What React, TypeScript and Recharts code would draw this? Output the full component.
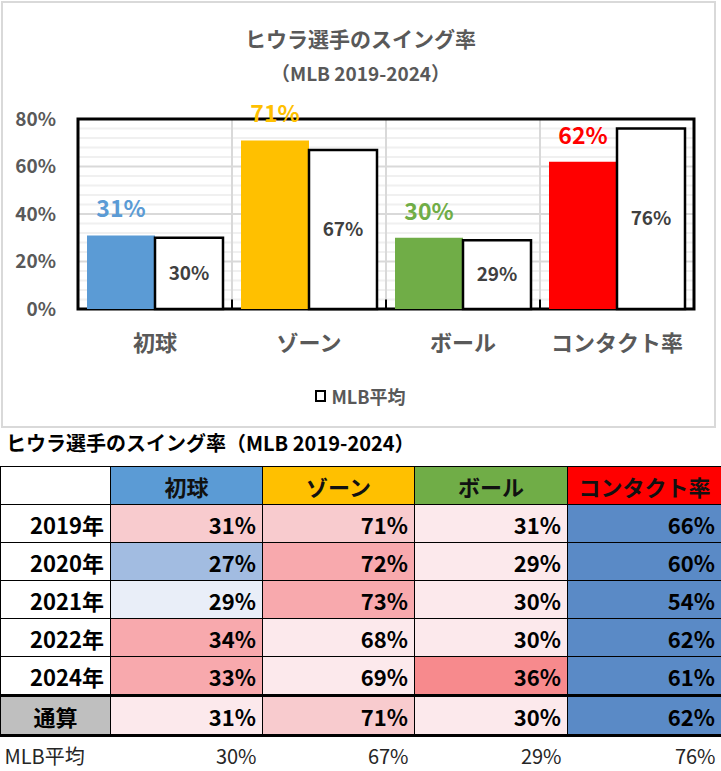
import React from "react";
import { BarChart, Bar, XAxis, YAxis, Legend, LabelList, Cell, ReferenceLine, ReferenceArea, CartesianGrid } from "recharts";

const categories = ["初球", "ゾーン", "ボール", "コンタクト率"];
const hiuraRates = [31, 71, 30, 62];
const mlbRates = [30, 67, 29, 76];
const categoryColors = ["#5B9BD5", "#FFC000", "#70AD47", "#FF0000"];
const yTicks = [0, 20, 40, 60, 80];
const minorTicks = [4, 8, 12, 16, 24, 28, 32, 36, 44, 48, 52, 56, 64, 68, 72, 76];

const years = ["2019年", "2020年", "2021年", "2022年", "2024年"];
const firstPitch = [31, 27, 29, 34, 33];
const zone = [71, 72, 73, 68, 69];
const ball = [31, 29, 30, 30, 36];
const contact = [66, 60, 54, 62, 61];

// conditional-format fills, one per cell (columns: 初球, ゾーン, ボール, コンタクト率)
const PINK1 = "#F8CBCE";
const PINK2 = "#F8A9AD";
const PINK0 = "#FCE9EC";
const PINK3 = "#F78A8D";
const BLUE = "#5A8AC6";
const yearFills = [
  [PINK1, PINK1, PINK0, BLUE],
  ["#A2BCE1", PINK2, PINK0, BLUE],
  ["#E9EEF8", PINK2, PINK0, BLUE],
  [PINK2, PINK0, PINK0, BLUE],
  [PINK2, PINK0, PINK3, BLUE],
];
const totalFills = [PINK0, PINK1, PINK0, BLUE];

const data = categories.map((name, i) => ({ name, hiura: hiuraRates[i], mlb: mlbRates[i] }));

const FONT = "'Noto Sans CJK JP', 'Noto Sans', sans-serif";
const pct = (v: number) => `${v}%`;

function HiuraLabel(props: any) {
  const { x, y, width, value, index } = props;
  return (
    <text x={x + width / 2} y={y - 18} textAnchor="middle" fontSize={23} fontWeight={700} fill={categoryColors[index]} fontFamily={FONT}>
      {pct(value)}
    </text>
  );
}

function LegendBox(props: any) {
  const items = (props.payload || []).filter((p: any) => p.type !== "none");
  return (
    <div style={{ display: "flex", justifyContent: "center", alignItems: "center", fontFamily: FONT }}>
      {items.map((p: any) => (
        <div key={p.value} style={{ display: "flex", alignItems: "center", gap: 5 }}>
          <span style={{ width: 11, height: 12, border: "2px solid #000", background: "#fff", boxSizing: "border-box" }} />
          <span style={{ fontSize: 18, fontWeight: 700, color: "#595959" }}>{p.value}</span>
        </div>
      ))}
    </div>
  );
}

const cellBase: React.CSSProperties = {
  border: "1.5px solid #000",
  padding: "0 6px 0 0",
  textAlign: "right",
  fontWeight: 700,
  fontSize: 22,
  height: 37,
  color: "#000",
};

export default function App() {
  const cols = [firstPitch, zone, ball, contact];
  const inner = categories.slice(1);
  return (
    <div style={{ position: "relative", width: 721, height: 771, background: "#fff", fontFamily: FONT }}>
      <style>{"body{margin:0}"}</style>
      <div style={{ position: "absolute", left: 0, top: 0 }}>
        <BarChart width={721} height={430} data={data} margin={{ top: 119, right: 27, bottom: 61, left: 18 }} barCategoryGap={9} barGap={0}>
          <CartesianGrid vertical={false} stroke="#D9D9D9" strokeWidth={2} />
          <XAxis dataKey="name" axisLine={false} tickLine={false} tickSize={0} tickMargin={26} height={60} interval={0}
            tick={{ fill: "#595959", fontSize: 22, fontWeight: 700, fontFamily: FONT }} />
          <YAxis domain={[0, 80]} ticks={yTicks} tickFormatter={pct} axisLine={false} tickLine={false} tickSize={0} tickMargin={22} width={60}
            tick={{ fill: "#595959", fontSize: 19, fontWeight: 700, fontFamily: FONT }} />
          {minorTicks.map((v) => (
            <ReferenceLine key={"m" + v} y={v} stroke="#F0F0F0" strokeWidth={2} zIndex={-60} />
          ))}
          {inner.map((c) => (
            <ReferenceLine key={"b" + c} x={c} position="start" stroke="#D9D9D9" strokeWidth={2} zIndex={-50} />
          ))}
          <Bar dataKey="hiura" name="ヒウラ" legendType="none" isAnimationActive={false}>
            {data.map((d, i) => (
              <Cell key={d.name} fill={categoryColors[i]} />
            ))}
            <LabelList dataKey="hiura" content={<HiuraLabel />} />
          </Bar>
          <Bar dataKey="mlb" name="MLB平均" fill="#FFFFFF" stroke="#000" strokeWidth={2.5} isAnimationActive={false}>
            <LabelList dataKey="mlb" position="center" formatter={(v: any) => pct(v)} fill="#404040" fontSize={19} fontWeight={700} fontFamily={FONT} />
          </Bar>
          {inner.map((c) => (
            <ReferenceLine key={"t" + c} segment={[{ x: c, y: 0 }, { x: c, y: 4 }]} position="start" stroke="#000" strokeWidth={2} />
          ))}
          <ReferenceArea x1={categories[0]} x2={categories[categories.length - 1]} y1={0} y2={80} fill="none" fillOpacity={0} stroke="#000" strokeWidth={3} ifOverflow="visible" />
          <Legend layout="horizontal" verticalAlign="middle" align="center" wrapperStyle={{ top: 383, left: 0, width: 721 }} content={<LegendBox />} />
        </BarChart>
      </div>
      <div style={{ position: "absolute", left: 1, top: 1, width: 715, height: 427, border: "2px solid #D9D9D9", boxSizing: "border-box", pointerEvents: "none" }} />
      <div style={{ position: "absolute", left: 0, width: 721, top: 24, textAlign: "center", fontSize: 21, fontWeight: 700, color: "#595959", lineHeight: "28px" }}>
        ヒウラ選手のスイング率
      </div>
      <div style={{ position: "absolute", left: 0, width: 721, top: 59, textAlign: "center", fontSize: 19, fontWeight: 700, color: "#595959", lineHeight: "28px" }}>
        （MLB 2019-2024）
      </div>
      <div style={{ position: "absolute", left: 6, top: 429, fontSize: 20, fontWeight: 700, color: "#000", lineHeight: "28px" }}>
        ヒウラ選手のスイング率（MLB 2019-2024）
      </div>
      <table style={{ position: "absolute", left: 0, top: 466, width: 721, borderCollapse: "collapse", tableLayout: "fixed", fontFamily: FONT }}>
        <colgroup>
          <col style={{ width: 110 }} />
          <col style={{ width: 152 }} />
          <col style={{ width: 152 }} />
          <col style={{ width: 153 }} />
          <col style={{ width: 154 }} />
        </colgroup>
        <tbody>
          <tr>
            <td style={{ ...cellBase, background: "#fff" }} />
            {categories.map((c, i) => (
              <td key={c} style={{ ...cellBase, textAlign: "center", padding: 0, background: categoryColors[i], color: "#111" }}>{c}</td>
            ))}
          </tr>
          {years.map((y, r) => (
            <tr key={y}>
              <td style={{ ...cellBase, background: "#fff" }}>{y}</td>
              {cols.map((col, c) => (
                <td key={c} style={{ ...cellBase, background: yearFills[r][c] }}>{pct(col[r])}</td>
              ))}
            </tr>
          ))}
          <tr>
            <td style={{ ...cellBase, textAlign: "center", padding: 0, background: "#BFBFBF", borderTop: "3px solid #000", borderBottom: "3px solid #000" }}>通算</td>
            {hiuraRates.map((v, c) => (
              <td key={c} style={{ ...cellBase, background: totalFills[c], borderTop: "3px solid #000", borderBottom: "3px solid #000" }}>{pct(v)}</td>
            ))}
          </tr>
          <tr>
            <td style={{ padding: "0 0 0 4px", fontSize: 20, color: "#262626", height: 36 }}>MLB平均</td>
            {mlbRates.map((v, c) => (
              <td key={c} style={{ padding: "0 6px 0 0", textAlign: "right", fontSize: 20, color: "#262626" }}>{pct(v)}</td>
            ))}
          </tr>
        </tbody>
      </table>
    </div>
  );
}
